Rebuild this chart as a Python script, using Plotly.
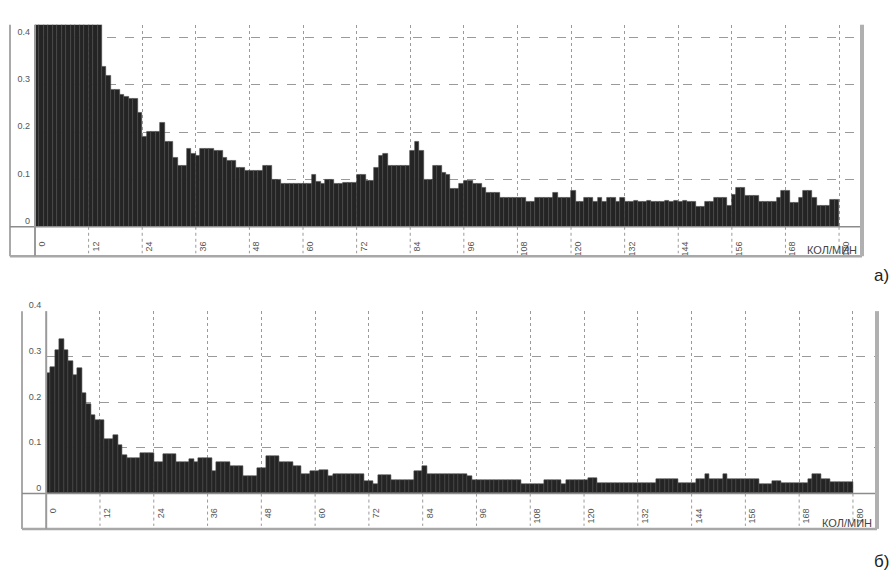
import plotly.graph_objects as go

# ---------------- data ----------------
bin_start = list(range(180))          # frequency bins, кол/мин
tick_vals = [0, 12, 24, 36, 48, 60, 72, 84, 96, 108, 120, 132, 144, 156, 168, 180]
tick_text = [str(v) for v in tick_vals]
y_tick_vals = [0, 0.1, 0.2, 0.3, 0.4]
y_tick_text = ["0", "0.1", "0.2", "0.3", "0.4"]

spectrum_a = [
    0.62, 0.58, 0.66, 0.70, 0.64, 0.60, 0.68, 0.72, 0.66, 0.60,
    0.58, 0.62, 0.56, 0.52, 0.48, 0.338, 0.32, 0.29, 0.29, 0.28,
    0.275, 0.27, 0.27, 0.24, 0.19, 0.20, 0.20, 0.20, 0.22, 0.18,
    0.18, 0.145, 0.128, 0.128, 0.165, 0.155, 0.15, 0.165, 0.165, 0.165,
    0.16, 0.16, 0.145, 0.14, 0.14, 0.125, 0.125, 0.118, 0.118, 0.118,
    0.118, 0.13, 0.13, 0.10, 0.10, 0.09, 0.09, 0.09, 0.09, 0.09,
    0.09, 0.09, 0.11, 0.095, 0.09, 0.10, 0.10, 0.09, 0.09, 0.093,
    0.093, 0.093, 0.11, 0.11, 0.097, 0.097, 0.125, 0.15, 0.155, 0.13,
    0.13, 0.13, 0.13, 0.13, 0.16, 0.18, 0.16, 0.10, 0.10, 0.13,
    0.13, 0.114, 0.11, 0.08, 0.08, 0.09, 0.097, 0.097, 0.09, 0.09,
    0.083, 0.072, 0.072, 0.072, 0.062, 0.062, 0.062, 0.062, 0.062, 0.062,
    0.052, 0.052, 0.062, 0.062, 0.062, 0.062, 0.072, 0.062, 0.062, 0.062,
    0.077, 0.052, 0.052, 0.062, 0.062, 0.052, 0.062, 0.052, 0.062, 0.062,
    0.052, 0.062, 0.052, 0.052, 0.055, 0.052, 0.052, 0.055, 0.052, 0.052,
    0.052, 0.055, 0.052, 0.055, 0.052, 0.055, 0.052, 0.052, 0.042, 0.042,
    0.052, 0.052, 0.062, 0.062, 0.062, 0.045, 0.068, 0.083, 0.083, 0.065,
    0.065, 0.065, 0.052, 0.052, 0.052, 0.052, 0.062, 0.077, 0.077, 0.05,
    0.05, 0.062, 0.077, 0.077, 0.062, 0.045, 0.045, 0.045, 0.057, 0.057,
]

spectrum_b = [
    0.264, 0.278, 0.314, 0.339, 0.315, 0.29, 0.26, 0.275, 0.22, 0.196,
    0.171, 0.16, 0.16, 0.12, 0.12, 0.128, 0.106, 0.085, 0.077, 0.077,
    0.077, 0.088, 0.088, 0.088, 0.07, 0.07, 0.086, 0.086, 0.086, 0.07,
    0.07, 0.07, 0.075, 0.07, 0.077, 0.077, 0.077, 0.049, 0.07, 0.07,
    0.07, 0.06, 0.06, 0.06, 0.038, 0.038, 0.038, 0.056, 0.056, 0.081,
    0.081, 0.081, 0.07, 0.07, 0.07, 0.06, 0.06, 0.042, 0.042, 0.049,
    0.049, 0.052, 0.052, 0.038, 0.042, 0.042, 0.042, 0.042, 0.042, 0.042,
    0.042, 0.027, 0.027, 0.02, 0.04, 0.04, 0.04, 0.029, 0.029, 0.029,
    0.029, 0.029, 0.049, 0.049, 0.06, 0.043, 0.042, 0.042, 0.042, 0.042,
    0.042, 0.042, 0.042, 0.042, 0.038, 0.029, 0.029, 0.029, 0.029, 0.029,
    0.029, 0.029, 0.029, 0.029, 0.029, 0.029, 0.02, 0.02, 0.02, 0.02,
    0.02, 0.029, 0.029, 0.029, 0.029, 0.02, 0.029, 0.029, 0.029, 0.029,
    0.029, 0.034, 0.034, 0.022, 0.022, 0.022, 0.022, 0.022, 0.022, 0.022,
    0.022, 0.022, 0.022, 0.022, 0.022, 0.022, 0.031, 0.031, 0.031, 0.031,
    0.031, 0.022, 0.022, 0.022, 0.022, 0.031, 0.031, 0.042, 0.031, 0.031,
    0.031, 0.042, 0.031, 0.031, 0.031, 0.031, 0.031, 0.031, 0.031, 0.02,
    0.02, 0.02, 0.027, 0.027, 0.022, 0.022, 0.022, 0.022, 0.022, 0.022,
    0.031, 0.042, 0.042, 0.031, 0.031, 0.024, 0.024, 0.024, 0.024, 0.024,
]

# ---------------- layout helpers ----------------
W, H = 892, 574
def fx(px): return px / W
def fy(py): return 1 - py / H

GRID = "#9a9a9a"
FRAME = "#8c8c8c"
BAR = "#242424"
TXT = "#555555"

# panel geometry in pixels
panels = [
    dict(xl=35, xr=862, yt=14, yb=220, band=250, outer=10, xmax=(862 - 35) / 4.467, ymax=(220 - 14) / 482.5,
         data=spectrum_a, label="а)", lx=891, ly=270),
    dict(xl=46.2, xr=877, yt=306, yb=492, band=528, outer=22, xmax=(877 - 46.2) / 4.482, ymax=0.4,
         data=spectrum_b, label="б)", lx=891, ly=561),
]

fig = go.Figure()
shapes = []
annotations = []
centers = [b + 0.5 for b in bin_start]

for i, p in enumerate(panels):
    xa = "xaxis" if i == 0 else "xaxis2"
    ya = "yaxis" if i == 0 else "yaxis2"
    xr_ = "x" if i == 0 else "x2"
    yr_ = "y" if i == 0 else "y2"
    fig.add_trace(go.Bar(
        x=centers, y=p["data"], width=1.0, xaxis=xr_, yaxis=yr_,
        marker=dict(color=BAR, line=dict(color="#4a4a4a", width=0.6)),
        showlegend=False, hoverinfo="x+y",
    ))
    fig.update_layout(**{
        xa: dict(domain=[fx(p["xl"]), fx(p["xr"])], range=[0, p["xmax"]], anchor=yr_,
                 tickvals=tick_vals, ticktext=tick_text, tickangle=-90,
                 showgrid=True, gridcolor=GRID, griddash="dot", gridwidth=1,
                 zeroline=False, showline=False, ticks="",
                 tickfont=dict(family="Liberation Sans, Arial", size=9, color=TXT),
                 ticklabelstandoff=12, ticklabelshift=7),
        ya: dict(domain=[fy(p["yb"]), fy(p["yt"])], range=[0, p["ymax"]], anchor=xr_,
                 tickvals=y_tick_vals, ticktext=y_tick_text,
                 showgrid=True, gridcolor=GRID, griddash="dash", gridwidth=1,
                 zeroline=False, showline=False, ticks="",
                 tickfont=dict(family="Liberation Sans, Arial", size=9, color=TXT),
                 ticklabelstandoff=4, ticklabelshift=-6),
    })
    shapes += [
        dict(type="line", xref="paper", yref="paper", x0=fx(p["outer"]), x1=fx(p["outer"]),
             y0=fy(p["yt"]), y1=fy(p["band"]), line=dict(color=FRAME, width=1.5)),
        dict(type="line", xref="paper", yref="paper", x0=fx(p["outer"]), x1=fx(p["xr"]),
             y0=fy(p["yb"]), y1=fy(p["yb"]), line=dict(color=FRAME, width=1.5)),
        dict(type="line", xref="paper", yref="paper", x0=fx(p["outer"]), x1=fx(p["xr"]),
             y0=fy(p["band"]), y1=fy(p["band"]), line=dict(color="#a8a8a8", width=2.5)),
        dict(type="line", xref="paper", yref="paper", x0=fx(p["xl"]), x1=fx(p["xl"]),
             y0=fy(p["yt"]), y1=fy(p["band"]), line=dict(color="#9a9a9a", width=2)),
        dict(type="line", xref="paper", yref="paper", x0=fx(p["xr"]), x1=fx(p["xr"]),
             y0=fy(p["yt"]), y1=fy(p["band"]), line=dict(color="#b0b0b0", width=4)),
    ]
    for t in tick_vals[1:]:
        shapes.append(dict(type="line", xref=xr_, yref="paper", x0=t, x1=t,
                           y0=fy(p["yb"]), y1=fy(p["band"] - 3),
                           line=dict(color=GRID, width=1, dash="dot")))
    annotations.append(dict(text="КОЛ/МИН", xref="paper", yref="paper",
                            x=fx(p["xr"] - 3), y=fy(p["band"] - 6), xanchor="right", yanchor="middle",
                            showarrow=False,
                            font=dict(family="Liberation Sans, Arial", size=11, color="#444")))
    annotations.append(dict(text=p["label"], xref="paper", yref="paper",
                            x=fx(p["lx"]), y=fy(p["ly"]), xanchor="right", yanchor="middle",
                            showarrow=False,
                            font=dict(family="Liberation Sans, Arial", size=17, color="#222")))

fig.update_layout(
    width=W, height=H, margin=dict(l=0, r=0, t=0, b=0),
    paper_bgcolor="white", plot_bgcolor="white",
    bargap=0, shapes=shapes, annotations=annotations,
)

fig.write_html("out.html", config={"displayModeBar": False},
               post_script="document.body.style.margin='0';")
